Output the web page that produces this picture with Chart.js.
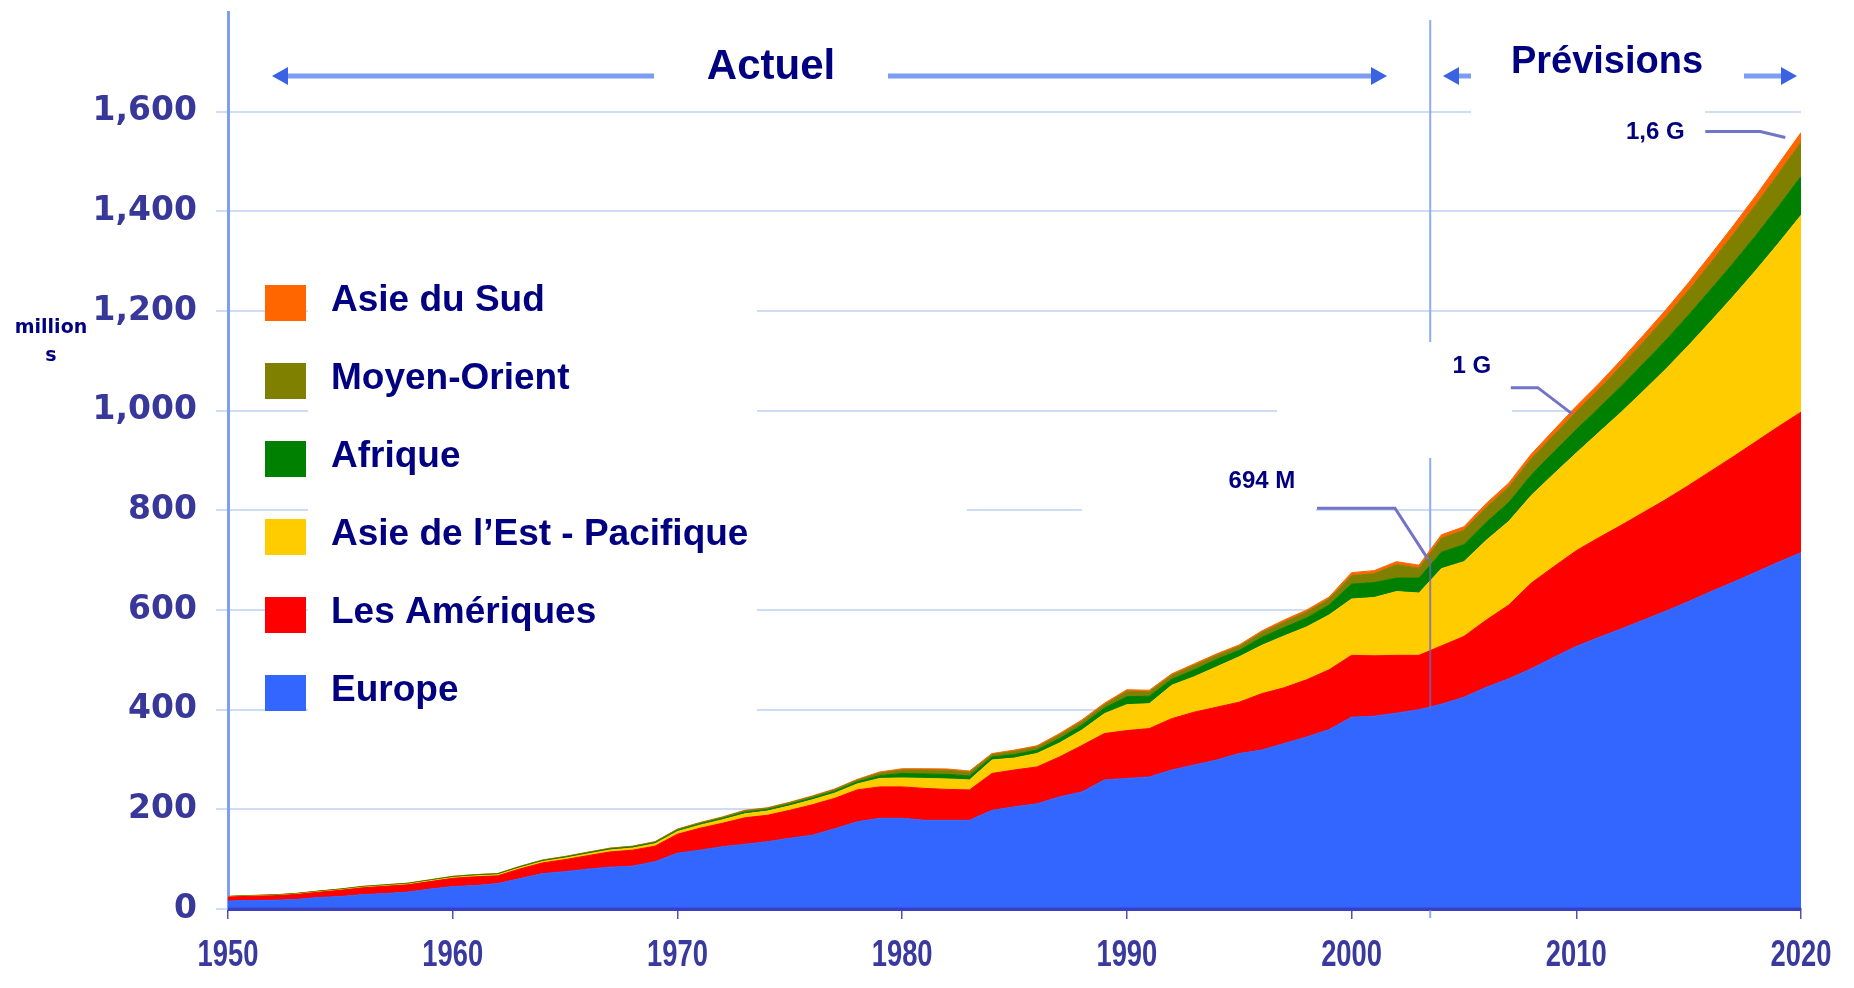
<!DOCTYPE html>
<html>
<head>
<meta charset="utf-8">
<script src="https://cdn.jsdelivr.net/npm/chart.js@4.4.1/dist/chart.umd.min.js"></script>
<style>
  html, body { margin: 0; padding: 0; background: #fff; }
  #wrap { width: 1854px; height: 988px; }
</style>
</head>
<body>
<div id="wrap"><canvas id="chart"></canvas></div>
<script>
// Arrivées de touristes internationaux par région (millions) – réel jusqu'à 2003, prévisions ensuite
const years = [
  1950, 1951, 1952, 1953, 1954, 1955, 1956, 1957, 1958, 1959,
  1960, 1961, 1962, 1963, 1964, 1965, 1966, 1967, 1968, 1969,
  1970, 1971, 1972, 1973, 1974, 1975, 1976, 1977, 1978, 1979,
  1980, 1981, 1982, 1983, 1984, 1985, 1986, 1987, 1988, 1989,
  1990, 1991, 1992, 1993, 1994, 1995, 1996, 1997, 1998, 1999,
  2000, 2001, 2002, 2003, 2004, 2005, 2006, 2007, 2008, 2009,
  2010, 2011, 2012, 2013, 2014, 2015, 2016, 2017, 2018, 2019, 2020
];

const europe = [
  16, 17, 17.5, 19, 23, 25, 29, 31, 34, 40,
  45, 47, 51, 61, 71, 75, 80, 84, 86, 95,
  112, 118, 125, 130, 135, 142, 148, 161, 175, 182,
  182, 178, 178, 178, 198, 205, 211, 225, 235, 259,
  262, 265, 279, 289, 299, 312, 319, 332, 345, 360,
  385, 387, 393, 400, 411, 425, 445, 462, 482, 505,
  527, 545, 562, 580, 598, 617, 637, 656, 676, 696, 715
];
const ameriques = [
  8, 8.5, 9, 10, 10.5, 12.5, 13.5, 14.5, 14.5, 15,
  16.5, 17.5, 15.5, 19.5, 21.5, 24, 27, 30.5, 32, 31,
  38, 44, 47, 53, 53, 56, 61, 61, 64, 63,
  63, 64, 62, 61, 74, 74, 74, 80, 93, 93,
  96, 97, 103, 106, 106, 103, 113, 112, 115, 120,
  124, 121, 116, 109, 117, 122, 135, 148, 172, 182,
  192, 200, 208, 216, 224, 233, 242, 252, 262, 272, 282
];
const asieEst = [
  0.5, 0.6, 0.7, 0.8, 0.9, 1.0, 1.2, 1.3, 1.4, 1.6,
  1.8, 2.0, 2.1, 2.4, 2.8, 3.1, 3.4, 3.8, 4.2, 4.8,
  5.5, 6.2, 6.9, 8, 8.5, 9, 10, 10.5, 12, 17,
  18, 20, 21, 20, 27, 24, 27, 28, 31, 40,
  52, 50, 67, 71, 81, 91, 97, 104, 106, 110,
  113, 117, 128, 125, 155, 150, 160, 168, 176, 186,
  196, 211, 227, 244, 262, 281, 301, 322, 344, 368, 395
];
const afrique = [
  0.5, 0.6, 0.7, 0.8, 0.9, 1.0, 1.0, 1.1, 1.1, 1.2,
  1.3, 1.4, 1.5, 1.6, 1.7, 1.8, 1.9, 2.0, 2.1, 2.2,
  2.4, 2.6, 2.8, 3.3, 3.2, 3.5, 3.7, 3.9, 4.2, 5.5,
  9, 9, 9, 8, 6, 7, 7, 9, 10, 11,
  16, 15, 12, 14, 15, 13, 16, 17, 18, 20,
  30, 30, 27, 30, 33, 34, 36, 38, 41, 44,
  47, 49, 52, 55, 58, 61, 64, 67, 70, 74, 78
];
const moyenOrient = [
  0.2, 0.3, 0.3, 0.4, 0.5, 0.5, 0.6, 0.6, 0.7, 0.7,
  0.8, 0.9, 0.9, 1.0, 1.1, 1.2, 1.3, 1.4, 1.4, 1.6,
  1.8, 2.0, 2.2, 2.8, 2.5, 2.8, 3.0, 3.2, 3.5, 5.5,
  7, 8, 8.5, 7.5, 5, 6.5, 6, 7, 7.5, 7,
  11, 9, 8, 9, 8, 8, 10, 11, 12, 12,
  17, 18, 27, 20, 28, 29, 30, 31, 33, 34,
  36, 38, 41, 44, 47, 50, 54, 58, 62, 66, 69
];
const asieSud = [
  0.1, 0.1, 0.1, 0.1, 0.1, 0.2, 0.2, 0.2, 0.2, 0.2,
  0.3, 0.3, 0.3, 0.3, 0.4, 0.4, 0.4, 0.5, 0.5, 0.6,
  0.7, 0.8, 0.9, 1.0, 1.0, 1.1, 1.2, 1.3, 1.4, 2.0,
  2.5, 2.5, 2.5, 2.5, 2, 2.5, 2.5, 3, 3, 3,
  3, 3, 3, 3, 3, 3, 3, 4, 4, 4,
  6, 6, 6, 6, 7, 7, 8, 8, 9, 10,
  11, 11, 12, 13, 14, 15, 16, 17, 18, 19, 19
];

const seriesNames = ['Europe', 'Les Amériques', 'Asie de l’Est - Pacifique', 'Afrique', 'Moyen-Orient', 'Asie du Sud'];
const seriesColors = ['#3366ff', '#ff0000', '#ffcc00', '#008000', '#808000', '#ff6600'];
const seriesValues = [europe, ameriques, asieEst, afrique, moyenOrient, asieSud];

const yTicks = [0, 200, 400, 600, 800, 1000, 1200, 1400, 1600];
const xTicks = [1950, 1960, 1970, 1980, 1990, 2000, 2010, 2020];
const dividerYear = 2003.5;

// callouts : point visé (année, valeur) + texte
const callouts = [
  { text: '694 M', year: 2003.4, value: 702, label: [-166, -78], elbow: [[-111, -51], [-33, -51]] },
  { text: '1 G', year: 2009.8, value: 994, label: [-100, -47], elbow: [[-61, -26], [-34, -26]] },
  { text: '1,6 G', year: 2019.3, value: 1548, label: [-130, -5], elbow: [[-80, -6], [-25, -6]] }
];

const NAVY = '#000080';

// zones blanches des zones de texte de la diapo
const whiteBoxes = [
  [308, 270, 757, 718],
  [757, 498, 967, 526],
  [1082, 455, 1316, 525],
  [1277, 342, 1512, 458],
  [1471, 28, 1744, 100],
  [1471, 100, 1705, 165]
];

function arrow(ctx, x1, x2, y, dir) {
  // dir = -1 pointe vers la gauche, 1 vers la droite ; x1 = pointe
  ctx.strokeStyle = '#7b9cf0';
  ctx.lineWidth = 5;
  ctx.beginPath();
  ctx.moveTo(x1 - dir * 10, y);
  ctx.lineTo(x2, y);
  ctx.stroke();
  ctx.fillStyle = '#3a62e2';
  ctx.beginPath();
  ctx.moveTo(x1, y);
  ctx.lineTo(x1 - dir * 16, y - 9);
  ctx.lineTo(x1 - dir * 16, y + 9);
  ctx.closePath();
  ctx.fill();
}

const decor = {
  id: 'decor',
  beforeDatasetsDraw(chart) {
    const { ctx, scales: { x }, chartArea } = chart;
    const dx = x.getPixelForValue(dividerYear);
    ctx.save();
    ctx.strokeStyle = '#8fabf2';
    ctx.lineWidth = 2;
    ctx.beginPath();
    ctx.moveTo(dx, 20);
    ctx.lineTo(dx, chartArea.bottom + 9);
    ctx.stroke();
    ctx.fillStyle = '#fff';
    whiteBoxes.forEach(b => ctx.fillRect(b[0], b[1], b[2] - b[0], b[3] - b[1]));
    ctx.restore();
  },
  afterDatasetsDraw(chart) {
    const { ctx, scales: { x, y }, chartArea } = chart;
    ctx.save();

    // ligne de base
    ctx.strokeStyle = '#3b3fc4';
    ctx.lineWidth = 3;
    ctx.beginPath();
    ctx.moveTo(chartArea.left, chartArea.bottom);
    ctx.lineTo(chartArea.right, chartArea.bottom);
    ctx.stroke();

    // années de l'axe x (police étroite)
    ctx.fillStyle = '#3a3a9e';
    ctx.font = 'bold 36px "Liberation Sans", Arial, sans-serif';
    ctx.textAlign = 'center';
    ctx.textBaseline = 'middle';
    xTicks.forEach(v => {
      ctx.save();
      ctx.translate(x.getPixelForValue(v), chartArea.bottom + 47);
      ctx.scale(0.76, 1);
      ctx.fillText(String(v), 0, 0);
      ctx.restore();
    });

    // séparateur par-dessus les données
    const dx = x.getPixelForValue(dividerYear);
    const i2003 = years.indexOf(2003);
    ctx.strokeStyle = 'rgba(110,100,190,0.75)';
    ctx.lineWidth = 2;
    ctx.beginPath();
    ctx.moveTo(dx, y.getPixelForValue(callouts[0].value));
    ctx.lineTo(dx, y.getPixelForValue(europe[i2003]));
    ctx.stroke();

    // callouts
    ctx.font = 'bold 24px "Liberation Sans", Arial, sans-serif';
    callouts.forEach(c => {
      const ax = x.getPixelForValue(c.year);
      const ay = y.getPixelForValue(c.value);
      ctx.strokeStyle = '#7373c8';
      ctx.lineWidth = 3;
      ctx.beginPath();
      ctx.moveTo(ax + c.elbow[0][0], ay + c.elbow[0][1]);
      ctx.lineTo(ax + c.elbow[1][0], ay + c.elbow[1][1]);
      ctx.lineTo(ax, ay);
      ctx.stroke();
      ctx.fillStyle = NAVY;
      ctx.fillText(c.text, ax + c.label[0], ay + c.label[1]);
    });

    // flèches Actuel / Prévisions
    arrow(ctx, 272, 654, 76, -1);
    arrow(ctx, 1387, 888, 76, 1);
    arrow(ctx, 1443, 1471, 76, -1);
    arrow(ctx, 1797, 1744, 76, 1);
    ctx.fillStyle = NAVY;
    ctx.font = 'bold 42px "Liberation Sans", Arial, sans-serif';
    ctx.fillText('Actuel', 771, 67);
    ctx.font = 'bold 38px "Liberation Sans", Arial, sans-serif';
    ctx.fillText('Prévisions', 1607, 63);

    // légende
    ctx.textAlign = 'left';
    ctx.font = 'bold 37px "Liberation Sans", Arial, sans-serif';
    const order = seriesNames.map((n, i) => i).reverse();
    order.forEach((si, row) => {
      const cy = 303 + row * 78;
      ctx.fillStyle = seriesColors[si];
      ctx.fillRect(265, cy - 18, 41, 36);
      ctx.fillStyle = NAVY;
      ctx.fillText(seriesNames[si], 331, cy - 2);
    });

    // titre d'axe
    ctx.textAlign = 'center';
    ctx.font = 'bold 19px "DejaVu Sans", sans-serif';
    ctx.fillText('million', 51, 328);
    ctx.fillText('s', 51, 356);

    ctx.restore();
  }
};

const datasets = seriesValues.map((vals, i) => ({
  label: seriesNames[i],
  data: years.map((yr, k) => ({ x: yr, y: vals[k] })),
  backgroundColor: seriesColors[i],
  borderColor: seriesColors[i],
  borderWidth: 1,
  pointRadius: 0,
  tension: 0,
  fill: i === 0 ? 'origin' : '-1'
}));

new Chart(document.getElementById('chart'), {
  type: 'line',
  data: { datasets },
  options: {
    responsive: true,
    maintainAspectRatio: false,
    animation: false,
    layout: { padding: { left: 0, right: 53, top: 12, bottom: 0 } },
    plugins: { legend: { display: false }, tooltip: { enabled: false } },
    scales: {
      x: {
        type: 'linear',
        min: 1950,
        max: 2020,
        afterBuildTicks: s => { s.ticks = xTicks.map(v => ({ value: v })); },
        afterFit: s => { s.height = 79; s.paddingLeft = 0; s.paddingRight = 0; },
        grid: { drawOnChartArea: false, drawTicks: true, tickLength: 10, color: '#4a55b5', lineWidth: 1.5 },
        border: { color: '#3b3fc4', width: 3 },
        ticks: { display: false }
      },
      y: {
        stacked: true,
        min: 0,
        max: 1800,
        afterBuildTicks: s => { s.ticks = yTicks.concat([1800]).map(v => ({ value: v })); },
        afterFit: s => { s.width = 228; s.paddingTop = 0; s.paddingBottom = 0; },
        grid: {
          color: c => (c.tick && c.tick.value === 1800 ? 'rgba(0,0,0,0)' : '#cfdcf6'),
          lineWidth: 2,
          tickLength: 12
        },
        border: { color: '#7e9ff0', width: 3 },
        ticks: {
          padding: 19,
          color: '#38389a',
          font: { family: '"DejaVu Sans", sans-serif', weight: 'bold', size: 33 },
          callback: v => (v === 1800 ? '' : v.toLocaleString('en-US'))
        }
      }
    }
  },
  plugins: [decor]
});
</script>
</body>
</html>
